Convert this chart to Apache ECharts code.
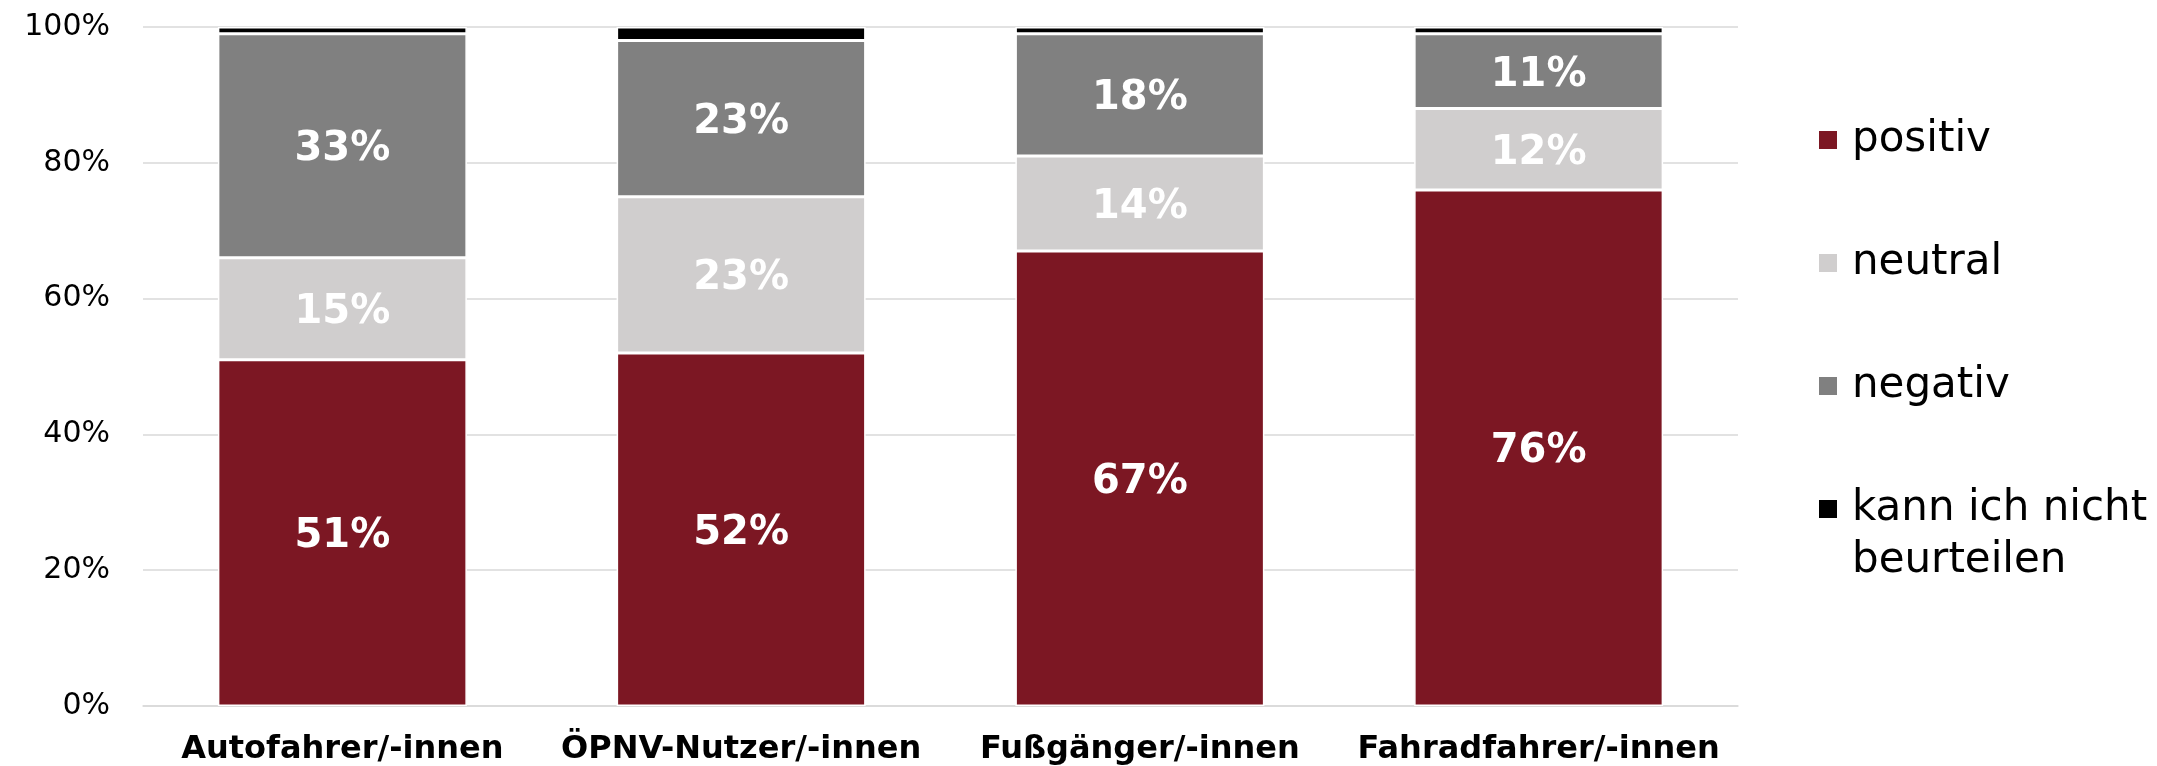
<!DOCTYPE html>
<html>
<head>
<meta charset="utf-8">
<script src="https://cdn.jsdelivr.net/npm/echarts@6/dist/echarts.min.js"></script>
<style>
  html, body { margin: 0; padding: 0; background: #fff; }
  #chart { width: 2157px; height: 766px; }
</style>
</head>
<body>
<div id="chart"></div>
<script>
const categories = ['Autofahrer/-innen', 'ÖPNV-Nutzer/-innen', 'Fußgänger/-innen', 'Fahradfahrer/-innen']
const positiv = [51, 52, 67, 76]
const neutral = [15, 23, 14, 12]
const negativ = [33, 23, 18, 11]
const keineAngabe = [1, 2, 1, 1]
const yTicks = [0, 20, 40, 60, 80, 100]

const font = 'DejaVu Sans, Verdana, sans-serif'
const chart = echarts.init(document.getElementById('chart'))

function barSeries(name, data, color, showLabel) {
  return {
    name: name,
    type: 'bar',
    stack: 'total',
    data: data,
    barWidth: 249,
    itemStyle: { color: color, borderColor: '#ffffff', borderWidth: 1.5 },
    label: {
      show: showLabel,
      position: 'inside',
      offset: [0, 4],
      formatter: '{c}%',
      color: '#ffffff',
      fontFamily: font,
      fontWeight: 'bold',
      fontSize: 40
    },
    emphasis: { disabled: true }
  }
}

const legendText = { fontFamily: font, fontSize: 42, lineHeight: 52, color: '#000', padding: [0, 0, 0, 9] }

chart.setOption({
  animation: false,
  grid: { left: 143, right: 419, top: 27, bottom: 60 },
  legend: [{
    data: ['positiv', 'neutral', 'negativ'],
    orient: 'vertical',
    left: 1817,
    top: 114,
    padding: 0,
    itemGap: 71,
    itemWidth: 20,
    itemHeight: 20,
    icon: 'rect',
    selectedMode: false,
    textStyle: legendText
  }, {
    data: ['kann ich nicht beurteilen'],
    orient: 'vertical',
    left: 1817,
    top: 431,
    padding: 0,
    itemWidth: 20,
    itemHeight: 20,
    icon: 'rect',
    selectedMode: false,
    formatter: () => ' \nkann ich nicht\nbeurteilen',
    textStyle: legendText
  }],
  xAxis: {
    type: 'category',
    data: categories,
    axisLine: { lineStyle: { color: '#D9D9D9', width: 1.5 } },
    axisTick: { show: false },
    axisLabel: {
      color: '#000',
      fontFamily: font,
      fontWeight: 'bold',
      fontSize: 32,
      lineHeight: 32,
      margin: 28,
      interval: 0
    }
  },
  yAxis: {
    type: 'value',
    min: yTicks[0],
    max: yTicks[yTicks.length - 1],
    interval: 20,
    axisLine: { show: false },
    axisTick: { show: false },
    splitLine: { lineStyle: { color: '#D9D9D9', width: 1.5 } },
    axisLabel: {
      formatter: '{value}%',
      color: '#000',
      fontFamily: font,
      fontSize: 30,
      margin: 33
    }
  },
  series: [
    barSeries('positiv', positiv, '#7C1723', true),
    barSeries('neutral', neutral, '#D0CECE', true),
    barSeries('negativ', negativ, '#808080', true),
    barSeries('kann ich nicht beurteilen', keineAngabe, '#000000', false)
  ]
})
</script>
</body>
</html>
